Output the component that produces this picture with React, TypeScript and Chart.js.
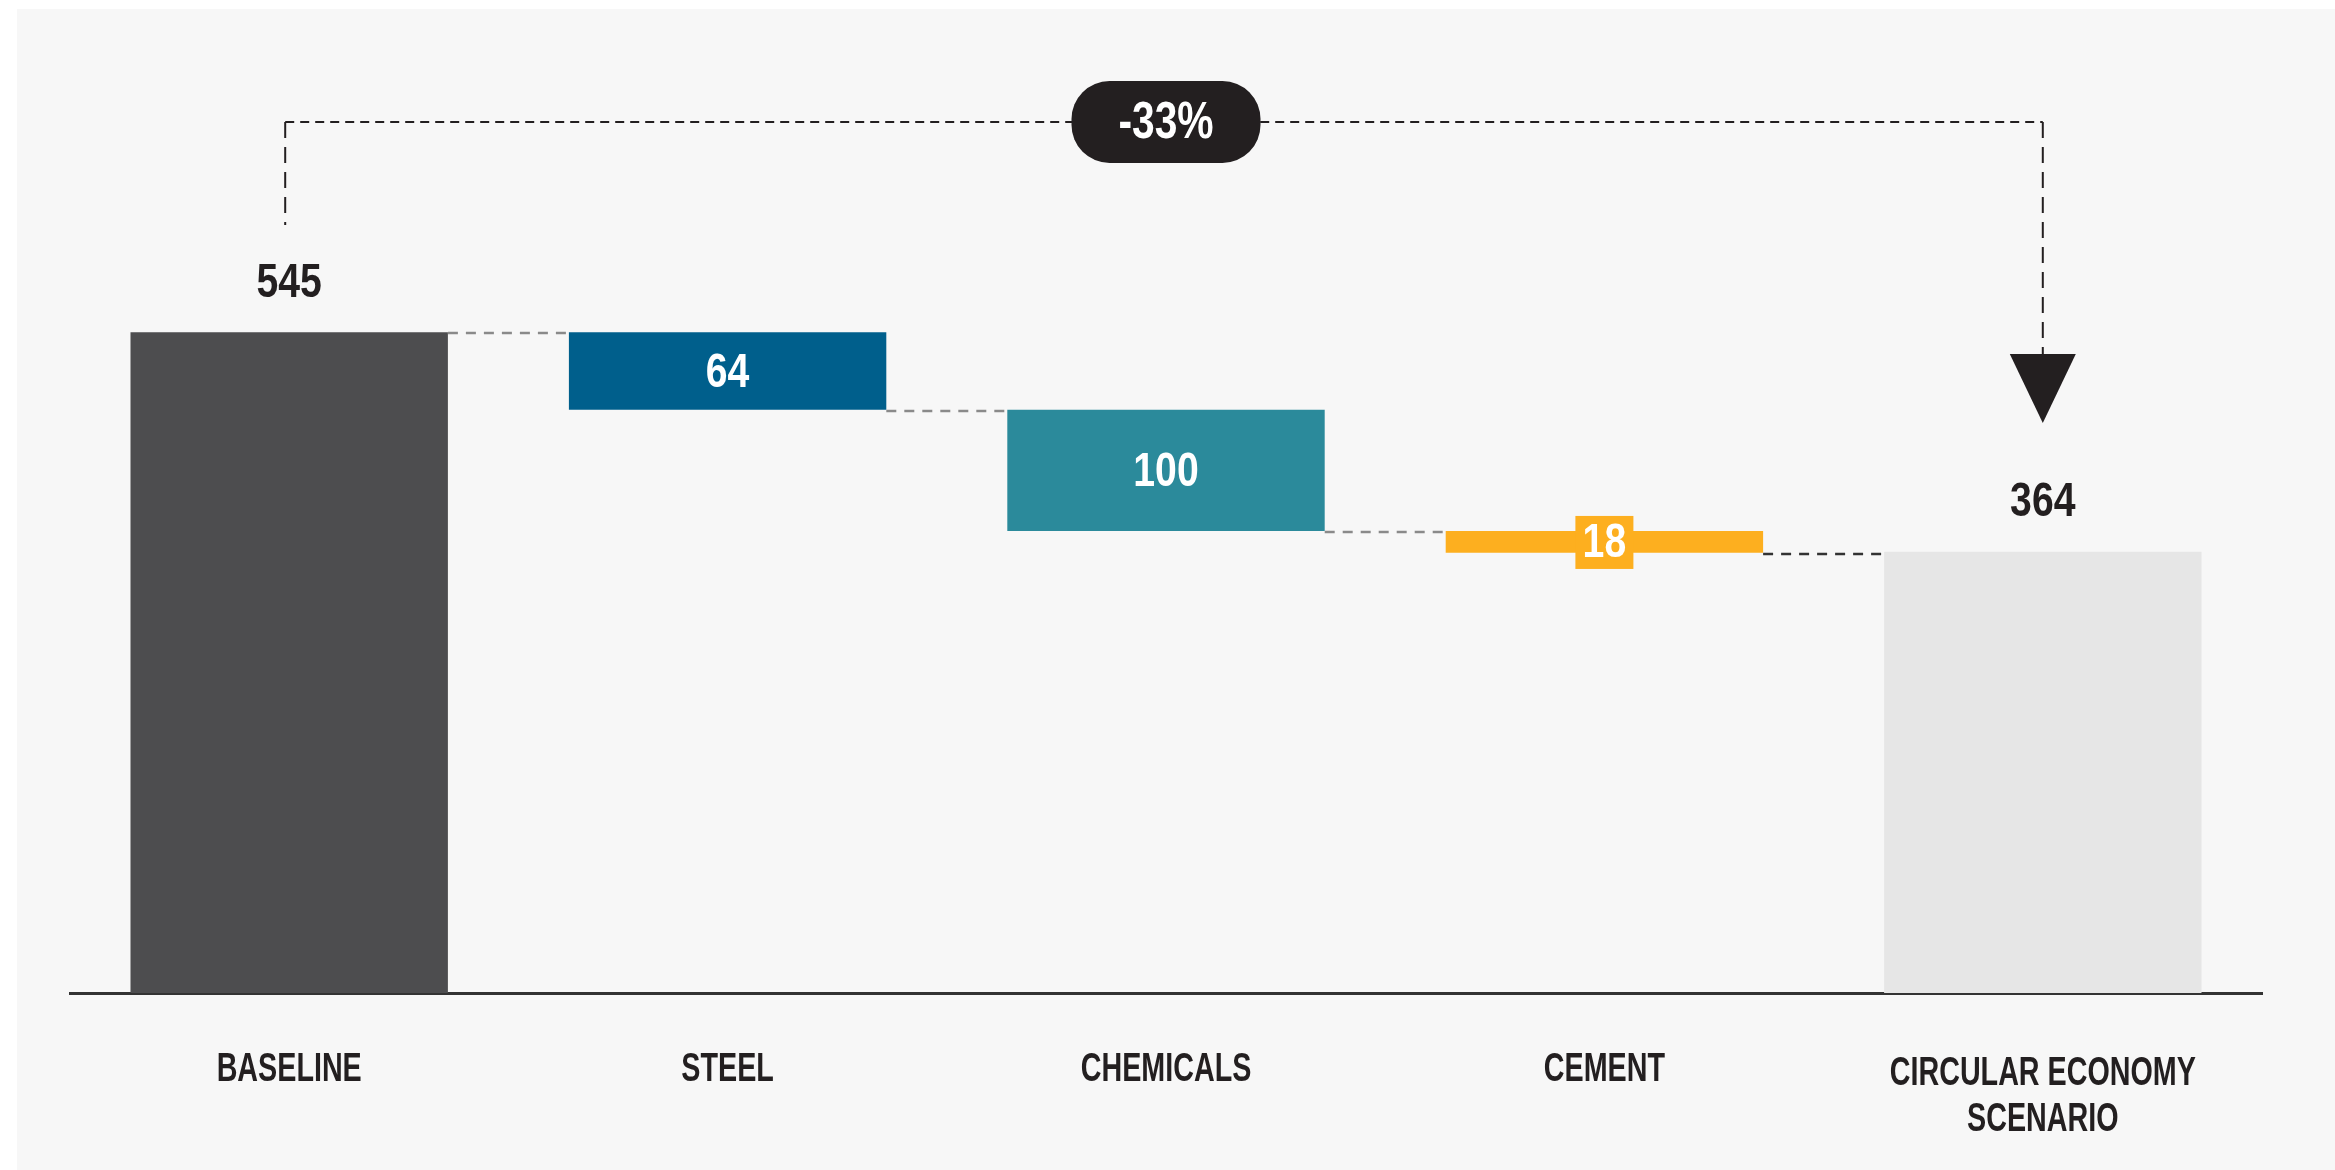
import React, { useEffect, useRef } from "react";
import { Chart, registerables } from "chart.js";

Chart.register(...registerables);

const categories: (string | string[])[] = [
  "BASELINE",
  "STEEL",
  "CHEMICALS",
  "CEMENT",
  ["CIRCULAR ECONOMY", "SCENARIO"],
];
const baselineValue = 545;
const reductions = [64, 100, 18];
const scenarioValue = 364;
const changeLabel = "-33%";

const barColors = ["#4d4d4f", "#005f8c", "#2b8a9b", "#fdaf1f", "#e6e6e6"];
const FONT = "'Liberation Sans', Arial, sans-serif";
const INK = "#231f20";

function buildRanges(): [number, number][] {
  const out: [number, number][] = [[0, baselineValue]];
  let level = baselineValue;
  for (const r of reductions) {
    out.push([level - r, level]);
    level -= r;
  }
  out.push([0, scenarioValue]);
  return out;
}

function buildLevels(): number[] {
  const lv: number[] = [baselineValue];
  let level = baselineValue;
  for (const r of reductions) {
    level -= r;
    lv.push(level);
  }
  return lv;
}

const labelValues = [baselineValue, ...reductions, scenarioValue];

function condensedText(ctx: CanvasRenderingContext2D, text: string, x: number, y: number, sx: number) {
  ctx.save();
  ctx.translate(x, y);
  ctx.scale(sx, 1);
  ctx.fillText(text, 0, 0);
  ctx.restore();
}

const annotPlugin = {
  id: "waterfallAnnotations",
  afterDatasetsDraw(chart: any) {
    const { ctx, chartArea, scales } = chart;
    const y = scales.y;
    const bars = chart.getDatasetMeta(0).data;
    const levels = buildLevels();
    ctx.save();

    // connectors
    ctx.lineWidth = 2.5;
    ctx.setLineDash([10, 8]);
    for (let i = 0; i < bars.length - 1; i++) {
      const a = bars[i];
      const b = bars[i + 1];
      const py = Math.round(y.getPixelForValue(levels[i])) + 1;
      ctx.strokeStyle = i === bars.length - 2 ? "#333333" : "#8a8a8a";
      ctx.beginPath();
      ctx.moveTo(a.x + a.width / 2, py);
      ctx.lineTo(b.x - b.width / 2, py);
      ctx.stroke();
    }
    ctx.setLineDash([]);

    // value labels
    ctx.textAlign = "center";
    ctx.textBaseline = "middle";
    ctx.font = `bold 49px ${FONT}`;
    bars.forEach((bar: any, i: number) => {
      const top = Math.min(bar.y, bar.base);
      const bottom = Math.max(bar.y, bar.base);
      const text = String(labelValues[i]);
      if (i === 0 || i === bars.length - 1) {
        ctx.fillStyle = INK;
        condensedText(ctx, text, bar.x, top - 49, 0.8);
      } else {
        const cy = (top + bottom) / 2;
        if (bottom - top < 45) {
          ctx.fillStyle = barColors[i];
          ctx.fillRect(bar.x - 29, cy - 26, 58, 53);
        }
        ctx.fillStyle = "#ffffff";
        condensedText(ctx, text, bar.x, cy + 2, 0.8);
      }
    });

    // bracket
    const xL = bars[0].x - 4;
    const xR = bars[bars.length - 1].x;
    const yTop = chartArea.top + 99;
    ctx.strokeStyle = INK;
    ctx.lineWidth = 2;
    ctx.setLineDash([9, 6]);
    ctx.beginPath();
    ctx.moveTo(xL, yTop);
    ctx.lineTo(xR, yTop);
    ctx.stroke();
    ctx.setLineDash([16, 9]);
    ctx.beginPath();
    ctx.moveTo(xL, yTop);
    ctx.lineTo(xL, yTop + 103);
    ctx.moveTo(xR, yTop);
    ctx.lineTo(xR, yTop + 232);
    ctx.stroke();
    ctx.setLineDash([]);

    // arrow head
    const triTop = yTop + 232;
    ctx.fillStyle = INK;
    ctx.beginPath();
    ctx.moveTo(xR - 33, triTop);
    ctx.lineTo(xR + 33, triTop);
    ctx.lineTo(xR, triTop + 69);
    ctx.closePath();
    ctx.fill();

    // pill
    const cx = (xL + xR) / 2 + 2;
    const pw = 189;
    const ph = 82;
    ctx.beginPath();
    ctx.roundRect(cx - pw / 2, yTop - ph / 2, pw, ph, 38);
    ctx.fill();
    ctx.fillStyle = "#ffffff";
    ctx.font = `bold 51px ${FONT}`;
    condensedText(ctx, changeLabel, cx, yTop + 2, 0.8);

    ctx.restore();
  },
  afterDraw(chart: any) {
    const { ctx, chartArea, scales } = chart;
    const x = scales.x;
    const labels = chart.data.labels as (string | string[])[];
    ctx.save();
    ctx.fillStyle = INK;
    ctx.textAlign = "center";
    ctx.textBaseline = "middle";
    ctx.font = `bold 41px ${FONT}`;
    labels.forEach((lab, i) => {
      const lines = Array.isArray(lab) ? lab : [lab];
      const px = x.getPixelForTick(i);
      lines.forEach((line, j) => {
        condensedText(ctx, line, px, chartArea.bottom + 77 + j * 46 + (lines.length > 1 ? 4 : 0), 0.7);
      });
    });
    ctx.restore();
  },
};

export default function App() {
  const canvasRef = useRef<HTMLCanvasElement | null>(null);

  useEffect(() => {
    document.body.style.margin = "0";
    const canvas = canvasRef.current;
    if (!canvas) return;
    const chart = new Chart(canvas, {
      type: "bar",
      data: {
        labels: categories as any,
        datasets: [
          {
            data: buildRanges() as any,
            backgroundColor: barColors,
            borderWidth: 0,
            borderSkipped: false,
            barPercentage: 0.724,
            categoryPercentage: 1,
          },
        ],
      },
      options: {
        animation: false,
        responsive: false,
        devicePixelRatio: 1,
        layout: { padding: { left: 70, right: 73, top: 23, bottom: 0 } },
        plugins: {
          legend: { display: false },
          tooltip: { enabled: false },
        },
        scales: {
          x: {
            grid: { display: false, drawTicks: false },
            border: { display: true, color: "#333333", width: 3 },
            ticks: { display: false },
            afterFit: (scale: any) => {
              scale.height = 177;
            },
          },
          y: {
            display: false,
            min: 0,
            max: 800,
          },
        },
      },
      plugins: [annotPlugin],
    });
    return () => chart.destroy();
  }, []);

  return (
    <div style={{ position: "relative", width: 2335, height: 1170, background: "#ffffff", overflow: "hidden" }}>
      <div style={{ position: "absolute", left: 17, top: 9, right: 0, bottom: 0, background: "#f7f7f7" }} />
      <canvas
        ref={canvasRef}
        width={2335}
        height={1170}
        style={{ position: "absolute", left: 0, top: 0, width: 2335, height: 1170 }}
      />
    </div>
  );
}
